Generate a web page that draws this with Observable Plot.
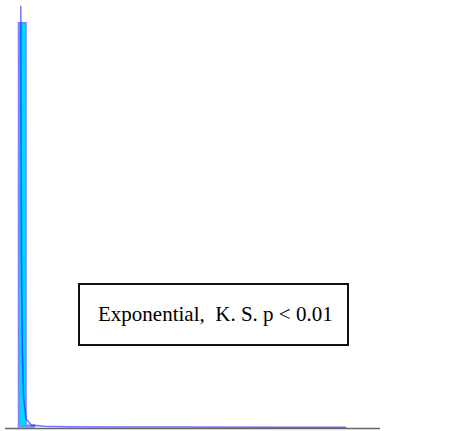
<!DOCTYPE html>
<html>
<head>
<meta charset="utf-8">
<script src="https://cdn.jsdelivr.net/npm/d3@7"></script>
<script src="https://cdn.jsdelivr.net/npm/@observablehq/plot@0.6"></script>
<style>
  html, body { margin: 0; padding: 0; background: #fff; }
  #wrap { position: relative; width: 453px; height: 431px; }
  #label {
    position: absolute; left: 78px; top: 283px; width: 267px; height: 59px;
    border: 2px solid #111; background: #fff; box-sizing: content-box;
    font-family: "Liberation Serif", "Times New Roman", serif; font-size: 21px;
    line-height: 58px; text-indent: 18px; color: #000; white-space: pre;
  }
</style>
</head>
<body>
<div id="wrap"></div>
<script>
// Histogram bins (data units) and densities
const binStart = [0, 1];
const binEnd = [1, 2];
const binDensity = [0.947, 0.004];
// Fitted exponential density curve
const curveX = [0.27, 0.3, 0.35, 0.45, 0.6, 0.9, 1.5, 3, 6, 12, 20, 30, 38.5];
const curveY = [0.987, 0.7, 0.4, 0.18, 0.07, 0.02, 0.006, 0.003, 0.002, 0.001, 0.001, 0.0005, 0.0003];
const xDomain = [-1.53, 42.6];
const labelText = "Exponential,  K. S. p < 0.01";

const bins = binStart.map((s, i) => ({x1: s, x2: binEnd[i], y: binDensity[i]}));
const curve = curveX.map((x, i) => ({x, y: curveY[i]}));

const chart = Plot.plot({
  width: 453,
  height: 431,
  marginLeft: 5, marginRight: 73, marginTop: 0, marginBottom: 4,
  x: {domain: xDomain, axis: null},
  y: {domain: [0, 0.987 / (1 - 5.7 / 427)], axis: null},
  marks: [
    Plot.ruleY([0], {x1: xDomain[0], x2: xDomain[1], stroke: "#666", strokeWidth: 1.5, dy: 1}),
    Plot.rectY(bins, {x1: "x1", x2: "x2", y: "y", fill: "#00d4ff", stroke: "#7f7fff", strokeWidth: 1.5, insetLeft: 0.5, insetRight: 0.5}),
    Plot.line(curve, {x: "x", y: "y", stroke: "#0000ff", strokeOpacity: 0.55, strokeWidth: 1.5})
  ]
});
const wrap = document.getElementById("wrap");
wrap.appendChild(chart);
const lab = document.createElement("div");
lab.id = "label";
lab.textContent = labelText;
wrap.appendChild(lab);
</script>
</body>
</html>
